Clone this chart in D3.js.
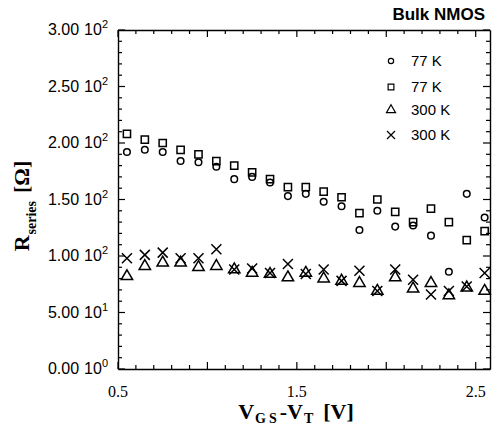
<!DOCTYPE html>
<html>
<head>
<meta charset="utf-8">
<script src="https://cdn.jsdelivr.net/npm/d3@7"></script>
<style>
body{margin:0;background:#fff;}
svg{display:block;}
</style>
</head>
<body>
<div id="vis"></div>
<script>
// datos
var vgs = [0.55,0.65,0.75,0.85,0.95,1.05,1.15,1.25,1.35,1.45,1.55,1.65,1.75,1.85,1.95,2.05,2.15,2.25,2.35,2.45,2.55];
var r77c = [192,194,192,184,183,179,168,170,165,153,155,148,144,123,140,126,127,118,86,155,134];
var r77s = [208,203,200,194,190,184,180,174,168,161,161,157,152,138,150,139,130,142,130,114,122];
var r300t = [82,91,94,94,90,91,88,85,84,81,85,80,78,76,69,81,71,76,65,72,69];
var r300x = [98,101,103,98,98,106,88,89,85,93,84,88,78,87,69,88,79,66,69,73,85];
var yticks = [0,50,100,150,200,250,300];
var ylabs = [["0.00","0"],["5.00","1"],["1.00","2"],["1.50","2"],["2.00","2"],["2.50","2"],["3.00","2"]];
var xticks = [0.5,1.5,2.5];
var legend = ["77 K","77 K","300 K","300 K"];
var marks = ["circle","square","triangle","cross"];

var W = 492, H = 438;
var margin = {top:30, right:2, bottom:69, left:118};
var width = W - margin.left - margin.right;
var height = H - margin.top - margin.bottom;

var svg = d3.select("#vis").append("svg")
	.attr("width", W).attr("height", H);
var g = svg.append("g")
	.attr("transform","translate(" + margin.left + "," + margin.top + ")");

var x = d3.scaleLinear().domain([0.5, 2.58]).range([0, width]);
var y = d3.scaleLinear().domain([0, 300]).range([height, 0]);

var minX = d3.range(5, 26).map(function(d){return d/10;});
var minY = d3.range(0, 31).map(function(d){return d*10;});

function isMajX(d){ return Math.abs(d*2 - Math.round(d*2)) < 1e-6; }
function isMajY(d){ return d % 50 === 0; }

// ejes
function tickAxis(axis, vals, tr){
	var a = g.append("g").attr("transform", tr || null)
		.call(axis.tickValues(vals).tickSize(0).tickFormat(""));
	a.select(".domain").attr("stroke","#000").attr("stroke-width",1.4);
	return a;
}
tickAxis(d3.axisBottom(x), minX, "translate(0," + height + ")");
tickAxis(d3.axisTop(x), minX);
tickAxis(d3.axisLeft(y), minY);
tickAxis(d3.axisRight(y), minY, "translate(" + width + ",0)");

// ticks hacia adentro
g.selectAll(".tb").data(minX).enter().append("line")
	.attr("x1", x).attr("x2", x)
	.attr("y1", height).attr("y2", function(d){return height - (isMajX(d) ? 7 : 4);})
	.attr("stroke","#000").attr("stroke-width",1.2);
g.selectAll(".tt").data(minX).enter().append("line")
	.attr("x1", x).attr("x2", x)
	.attr("y1", 0).attr("y2", function(d){return isMajX(d) ? 7 : 4;})
	.attr("stroke","#000").attr("stroke-width",1.2);
g.selectAll(".tl").data(minY).enter().append("line")
	.attr("y1", y).attr("y2", y)
	.attr("x1", 0).attr("x2", function(d){return isMajY(d) ? 7 : 4;})
	.attr("stroke","#000").attr("stroke-width",1.2);
g.selectAll(".tr").data(minY).enter().append("line")
	.attr("y1", y).attr("y2", y)
	.attr("x1", width).attr("x2", function(d){return width - (isMajY(d) ? 7 : 4);})
	.attr("stroke","#000").attr("stroke-width",1.2);

// etiquetas Y
var yl = g.selectAll(".yl").data(yticks).enter().append("text")
	.attr("x", -10).attr("y", function(d){return y(d) + 5;})
	.attr("text-anchor","end")
	.style("font-family","'Liberation Sans', Arial, sans-serif")
	.style("font-size","16px");
yl.append("tspan").text(function(d,i){return ylabs[i][0];});
yl.append("tspan").attr("dx",5).text("10");
yl.append("tspan").attr("dy",-7).style("font-size","11px").text(function(d,i){return ylabs[i][1];});

// etiquetas X
g.selectAll(".xl").data(xticks).enter().append("text")
	.attr("x", x).attr("y", height + 28)
	.attr("text-anchor","middle")
	.style("font-family","'Liberation Serif', 'Times New Roman', serif")
	.style("font-size","16px")
	.text(function(d){return d.toFixed(1);});

// titulos de ejes
var xt = svg.append("text")
	.attr("x", 296).attr("y", 419)
	.attr("text-anchor","middle")
	.style("font-family","'Liberation Serif', 'Times New Roman', serif")
	.style("font-weight","bold").style("font-size","22px");
xt.append("tspan").style("letter-spacing","1px").text("V");
xt.append("tspan").attr("dy",4).style("font-size","14px").style("letter-spacing","3px").text("GS");
xt.append("tspan").attr("dy",-4).text("-V");
xt.append("tspan").attr("dy",4).attr("dx",1).style("font-size","14px").text("T");
xt.append("tspan").attr("dy",-4).attr("dx",10).text("[V]");

var yt = svg.append("text")
	.attr("transform","translate(29,206) rotate(-90)")
	.attr("text-anchor","middle")
	.style("font-family","'Liberation Serif', 'Times New Roman', serif")
	.style("font-weight","bold").style("font-size","22px");
yt.append("tspan").text("R");
yt.append("tspan").attr("dy",7).attr("dx",1).style("font-size","14px").text("series");
yt.append("tspan").attr("dy",-7).attr("dx",8).text("[Ω]");

svg.append("text")
	.attr("x", 485).attr("y", 20)
	.attr("text-anchor","end")
	.style("font-family","'Liberation Sans', Arial, sans-serif")
	.style("font-weight","bold").style("font-size","17px")
	.text("Bulk NMOS");

// marcadores
function drawMark(sel, type){
	sel.attr("fill","none").attr("stroke","#000").attr("stroke-width",1.5);
	if(type === "circle") sel.attr("d", d3.symbol().type(d3.symbolCircle).size(34)());
	if(type === "square") sel.attr("d", d3.symbol().type(d3.symbolSquare).size(52)());
	if(type === "triangle") sel.attr("d", d3.symbol().type(d3.symbolTriangle).size(56)());
	if(type === "cross") sel.attr("d", "M-5,-5L5,5M-5,5L5,-5");
}

var series = [r77c, r77s, r300t, r300x];
series.forEach(function(s, k){
	g.selectAll(".m" + k).data(s).enter().append("path")
		.attr("transform", function(d,i){return "translate(" + x(vgs[i]) + "," + y(d) + ")";})
		.call(drawMark, marks[k]);
});

// leyenda
var lg = svg.selectAll(".lg").data(legend).enter().append("g")
	.attr("transform", function(d,i){return "translate(391," + [61,87,110,135][i] + ")";});
lg.append("path").each(function(d,i){ d3.select(this).call(drawMark, marks[i]); })
	.attr("transform","scale(0.8)");
lg.append("text").attr("x", 20).attr("y", 5)
	.style("font-family","'Liberation Sans', Arial, sans-serif")
	.style("font-size","15px")
	.text(function(d){return d;});
</script>
</body>
</html>
